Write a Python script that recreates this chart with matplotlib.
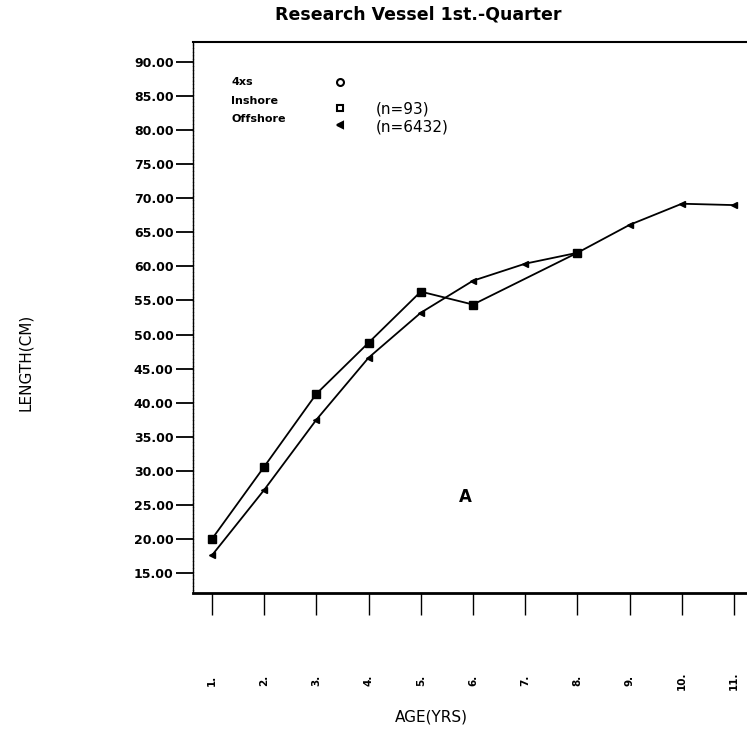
import matplotlib
matplotlib.use("Agg")
from matplotlib import pyplot as plt

# data
ages = [1, 2, 3, 4, 5, 6, 7, 8, 9, 10, 11]
inshore_age = [1, 2, 3, 4, 5, 6, 8]
inshore_len = [20.0, 30.6, 41.3, 48.8, 56.3, 54.4, 62.0]
offshore_age = [1, 2, 3, 4, 5, 6, 7, 8, 9, 10, 11]
offshore_len = [17.6, 27.2, 37.5, 46.6, 53.2, 57.9, 60.4, 62.0, 66.1, 69.2, 69.0]
y_ticks = [15, 20, 25, 30, 35, 40, 45, 50, 55, 60, 65, 70, 75, 80, 85, 90]
x_labels = [str(a) + "." for a in ages]
legend_labels = ["4xs", "Inshore", "Offshore"]
legend_markers = ["o", "s", "<"]
n_labels = ["", "(n=93)", "(n=6432)"]

W, H = 747, 732
fig = plt.figure(figsize=(W / 100, H / 100), dpi=100)

def fx(px): return px / W
def fy(py): return 1 - py / H

ax = fig.add_axes([fx(193), fy(593), fx(747) - fx(193), fy(42) - fy(593)])

ax.plot(inshore_age, inshore_len, color="black", lw=1.3, marker="s", ms=6,
        mfc="black", mec="black")
ax.plot(offshore_age, offshore_len, color="black", lw=1.3, marker="<", ms=4,
        mfc="black", mec="black")

ax.set_xlim(0.636, 11.249)
ax.set_ylim(12.06, 92.94)

ax.set_yticks(y_ticks)
ax.set_yticklabels(["%.2f" % v for v in y_ticks], fontsize=9, fontweight="bold")
ax.tick_params(axis="y", direction="out", length=12, width=1.3, pad=2)

ax.set_xticks(ages)
ax.set_xticklabels(x_labels, rotation=90, fontsize=7.5, fontweight="bold", va="center")
ax.tick_params(axis="x", direction="out", length=16, width=1.0, pad=47)

ax.spines["right"].set_visible(False)
ax.spines["left"].set_linewidth(1.0)
ax.spines["left"].set_linestyle((0, (2, 0.6)))
ax.spines["bottom"].set_linewidth(2.0)
ax.spines["top"].set_linewidth(1.5)

ax.text(5.85, 26.2, "A", fontsize=12, fontweight="bold", ha="center", va="center")

# legend block, drawn by hand like the original plotter output
rows_y = [82, 101, 119]
mark_y = [82, 108, 125]
for lab, mk, ty, my, n in zip(legend_labels, legend_markers, rows_y, mark_y, n_labels):
    fig.text(fx(231), fy(ty), lab, fontsize=8, fontweight="bold", ha="left", va="center")
    fig.add_artist(plt.Line2D([fx(340)], [fy(my)], marker=mk, ms=5 if mk != "<" else 4,
                              mfc="white" if mk != "<" else "black", mec="black",
                              mew=1.5, ls="none", transform=fig.transFigure))
    if n:
        fig.text(fx(376), fy(ty + 8), n, fontsize=11, ha="left", va="center")

fig.text(fx(418), fy(15), "Research Vessel 1st.-Quarter", fontsize=12.5,
         fontweight="bold", ha="center", va="center")
fig.text(fx(431), fy(717), "AGE(YRS)", fontsize=11, ha="center", va="center")
fig.text(fx(25), fy(362), "LENGTH(CM)", fontsize=11, rotation=90, ha="center", va="center")

fig.savefig("out.png", dpi=100)
